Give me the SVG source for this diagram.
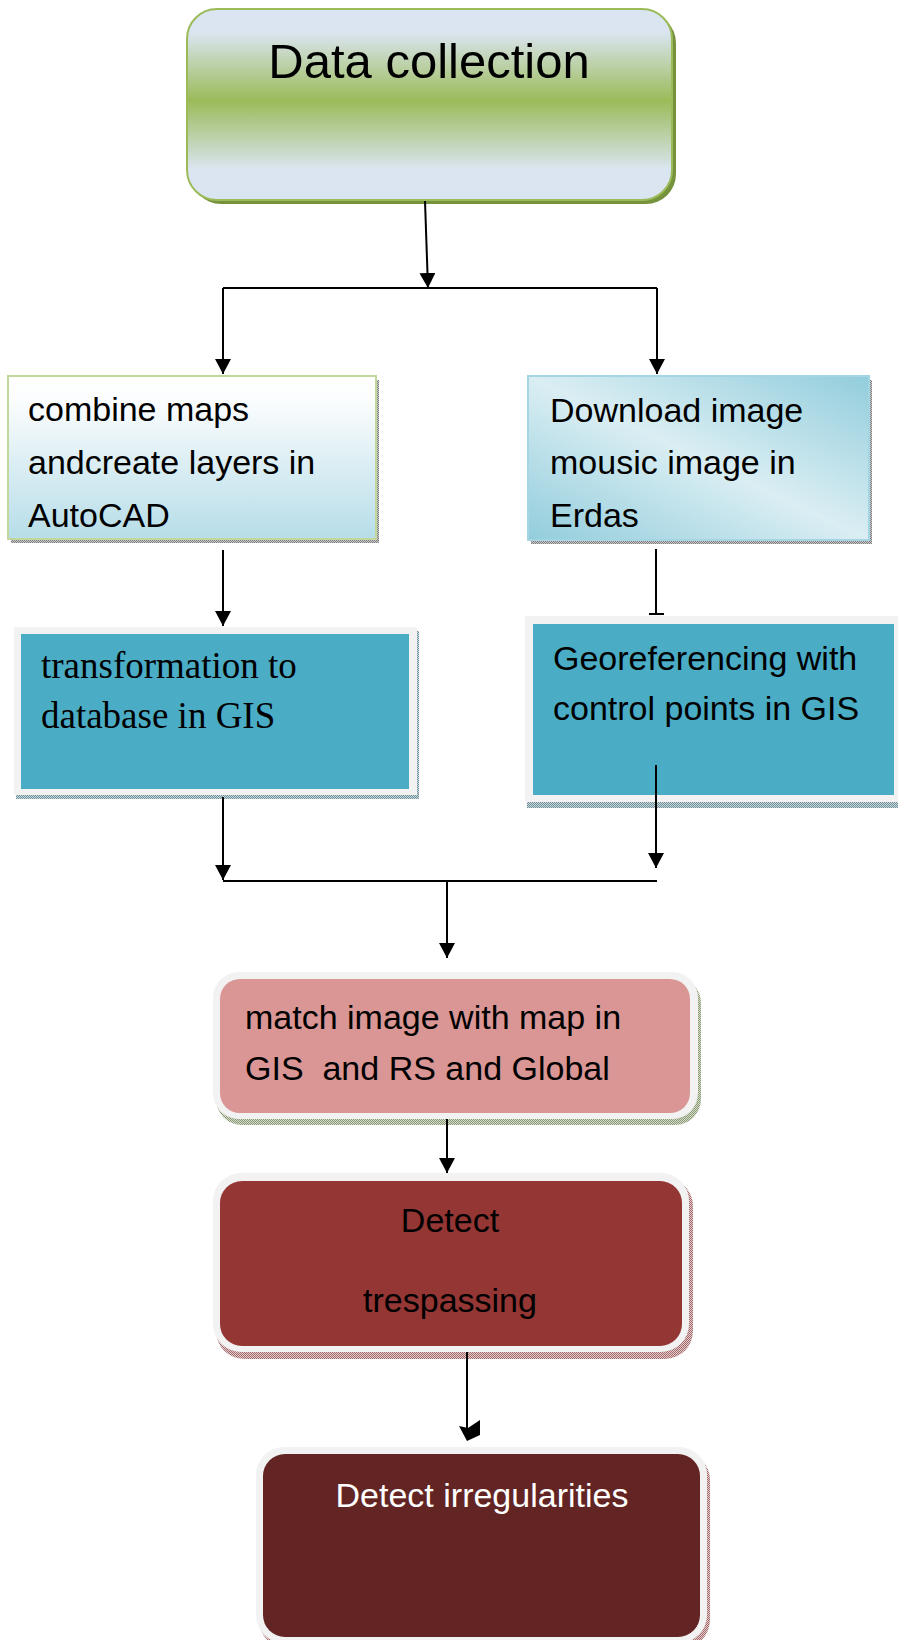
<svg xmlns="http://www.w3.org/2000/svg" width="898" height="1640" viewBox="0 0 898 1640">
<defs>
<style>
.sans{font-family:"Liberation Sans",Arial,sans-serif;fill:#000}
.serif{font-family:"Liberation Serif","Times New Roman",serif;fill:#000}
.t34{font-size:34px}
.conn{stroke:#000;stroke-width:2;fill:none}
.frame{fill:#f2f2f2}
</style>
<marker id="arr" markerUnits="userSpaceOnUse" markerWidth="18" markerHeight="18" refX="15" refY="8" orient="auto">
<path d="M0,0 L15,8 L0,16 z" fill="#000"/>
</marker>
<linearGradient id="gData" x1="0" y1="0" x2="0" y2="1">
<stop offset="0" stop-color="#dbe5f1"/>
<stop offset="0.12" stop-color="#dbe5f1"/>
<stop offset="0.48" stop-color="#9bbb59"/>
<stop offset="0.84" stop-color="#dbe5f1"/>
<stop offset="1" stop-color="#dbe5f1"/>
</linearGradient>
<linearGradient id="gBox1" x1="0" y1="0" x2="0" y2="1">
<stop offset="0" stop-color="#ffffff"/>
<stop offset="0.15" stop-color="#fbfdfe"/>
<stop offset="1" stop-color="#b6dde8"/>
</linearGradient>
<linearGradient id="gBox3" x1="0" y1="1" x2="1" y2="0">
<stop offset="0" stop-color="#92cddc"/>
<stop offset="0.5" stop-color="#daeef3"/>
<stop offset="1" stop-color="#92cddc"/>
</linearGradient>
<pattern id="dotGray" width="2" height="2" patternUnits="userSpaceOnUse">
<rect width="2" height="2" fill="#c8c8c8"/><rect width="1" height="1" fill="#7f7f7f"/><rect x="1" y="1" width="1" height="1" fill="#7f7f7f"/>
</pattern>
<pattern id="dotTeal" width="2" height="2" patternUnits="userSpaceOnUse">
<rect width="2" height="2" fill="#c8d8dc"/><rect width="1" height="1" fill="#6f8f99"/><rect x="1" y="1" width="1" height="1" fill="#6f8f99"/>
</pattern>
<pattern id="dotGreen" width="2" height="2" patternUnits="userSpaceOnUse">
<rect width="2" height="2" fill="#d4dcc8"/><rect width="1" height="1" fill="#8a9a78"/><rect x="1" y="1" width="1" height="1" fill="#8a9a78"/>
</pattern>
<pattern id="dotPink" width="2" height="2" patternUnits="userSpaceOnUse">
<rect width="2" height="2" fill="#e6cccc"/><rect width="1" height="1" fill="#a06a6a"/><rect x="1" y="1" width="1" height="1" fill="#a06a6a"/>
</pattern>
</defs>
<rect width="898" height="1640" fill="#fff"/>

<g id="data-collection">
<rect x="191" y="13" width="485" height="191" rx="30" fill="#76923c"/>
<rect x="187" y="9" width="485" height="191" rx="30" fill="url(#gData)" stroke="#9bbb59" stroke-width="2"/>
<text class="sans" x="429" y="78" font-size="49" text-anchor="middle">Data collection</text>
</g>

<g id="combine-maps">
<rect x="11" y="380" width="368" height="163" fill="url(#dotGray)"/>
<rect x="8" y="376" width="368" height="163" fill="url(#gBox1)" stroke="#c3d69b" stroke-width="2"/>
<text class="sans t34" x="28" y="421">combine maps</text>
<text class="sans t34" x="28" y="474">andcreate layers in</text>
<text class="sans t34" x="28" y="527">AutoCAD</text>
</g>

<g id="download-image">
<rect x="531" y="380" width="341" height="164" fill="url(#dotGray)"/>
<rect x="528" y="376" width="341" height="164" fill="url(#gBox3)" stroke="#a5d5e2" stroke-width="2"/>
<text class="sans t34" x="550" y="422">Download image</text>
<text class="sans t34" x="550" y="474">mousic image in</text>
<text class="sans t34" x="550" y="527">Erdas</text>
</g>

<g id="transformation">
<rect x="16" y="631" width="403" height="168" fill="url(#dotTeal)"/>
<rect class="frame" x="14" y="627" width="403" height="168"/>
<rect x="21" y="634" width="388" height="155" fill="#4bacc6"/>
<text class="serif" x="41" y="678" font-size="37">transformation to</text>
<text class="serif" x="41" y="728" font-size="37">database in GIS</text>
</g>

<g id="georeferencing">
<rect x="527" y="620" width="375" height="188" fill="url(#dotTeal)"/>
<rect class="frame" x="525" y="616" width="375" height="186"/>
<rect x="533" y="624" width="361" height="171" fill="#4bacc6"/>
<text class="sans t34" x="553" y="670">Georeferencing with</text>
<text class="sans t34" x="553" y="720">control points in GIS</text>
</g>

<g id="match-image">
<rect x="216" y="977" width="485" height="148" rx="26" fill="url(#dotGreen)"/>
<rect class="frame" x="213" y="972" width="485" height="147" rx="26"/>
<rect x="220" y="979" width="470" height="134" rx="20" fill="#d99694"/>
<text class="sans t34" x="245" y="1029">match image with map in</text>
<text class="sans t34" x="245" y="1080" xml:space="preserve">GIS  and RS and Global</text>
</g>

<g id="detect-trespassing">
<rect x="216" y="1178" width="477" height="181" rx="28" fill="url(#dotPink)"/>
<rect class="frame" x="213" y="1173" width="476" height="179" rx="28"/>
<rect x="220" y="1181" width="462" height="165" rx="22" fill="#943634"/>
<text class="sans t34" x="450" y="1232" text-anchor="middle">Detect</text>
<text class="sans t34" x="450" y="1312" text-anchor="middle">trespassing</text>
</g>

<g id="detect-irregularities">
<rect x="259" y="1452" width="451" height="196" rx="28" fill="url(#dotPink)"/>
<rect class="frame" x="256" y="1447" width="451" height="196" rx="28"/>
<rect x="263" y="1454" width="437" height="183" rx="22" fill="#632523"/>
<text class="sans t34" x="482" y="1507" text-anchor="middle" style="fill:#fff">Detect irregularities</text>
</g>

<g id="connectors">
<path class="conn" d="M425,201 L428,288" marker-end="url(#arr)"/>
<path class="conn" d="M223,288 L657,288"/>
<path class="conn" d="M223,288 L223,374" marker-end="url(#arr)"/>
<path class="conn" d="M657,288 L657,374" marker-end="url(#arr)"/>
<path class="conn" d="M223,550 L223,626" marker-end="url(#arr)"/>
<path class="conn" d="M656,549 L656,614 M649,614 L664,614"/>
<path class="conn" d="M656,765 L656,868" marker-end="url(#arr)"/>
<path class="conn" d="M223,797 L223,880" marker-end="url(#arr)"/>
<path class="conn" d="M223,881 L657,881"/>
<path class="conn" d="M447,881 L447,958" marker-end="url(#arr)"/>
<path class="conn" d="M447,1119 L447,1173" marker-end="url(#arr)"/>
<path class="conn" d="M467,1352 L467,1432"/>
<polygon points="459,1426 467,1441 480,1435 480,1420 468,1428" fill="#000"/>
</g>
</svg>
